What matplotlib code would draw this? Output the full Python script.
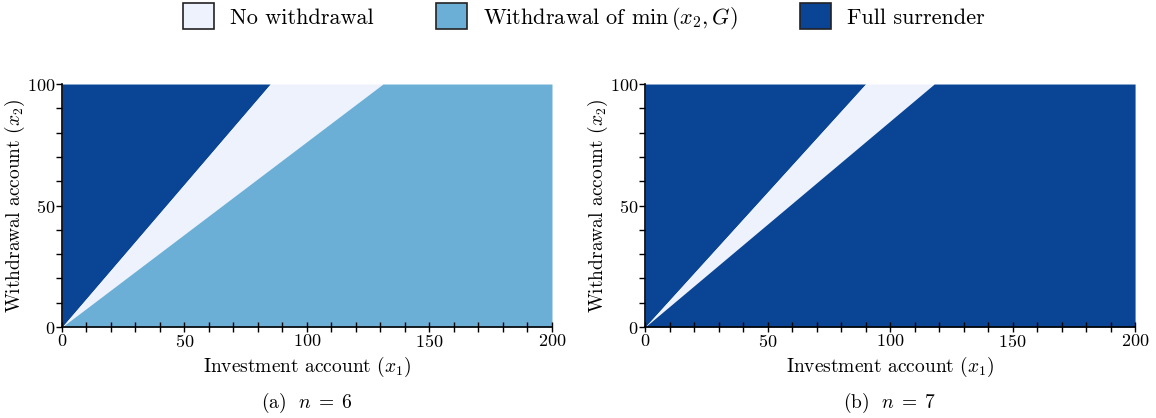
import matplotlib
matplotlib.use('Agg')
import matplotlib.pyplot as plt
import matplotlib.patches as mpatches
from matplotlib.ticker import MultipleLocator
from matplotlib import rcParams

rcParams['font.family'] = 'serif'
rcParams['font.serif'] = ['cmr10']
rcParams['mathtext.fontset'] = 'cm'
rcParams['axes.formatter.use_mathtext'] = True

# boundaries of the regions, given as x1 where each boundary reaches x2 = 100
x2_edge = [0, 100]
upper_a = [0, 85]    # full surrender / no withdrawal (n = 6)
lower_a = [0, 131]   # no withdrawal / withdrawal (n = 6)
upper_b = [0, 90]    # n = 7
lower_b = [0, 118]
x1_max = 200

c_none = '#eef2fd'
c_with = '#6baed6'
c_full = '#094594'

panels = [
	(upper_a, lower_a, c_with, r'(a)  $n\;=\;6$'),
	(upper_b, lower_b, c_full, r'(b)  $n\;=\;7$'),
]

fig = plt.figure(figsize=(11.56, 4.18), dpi=100)
lefts = [0.0536, 0.558]
for (up, lo, below, cap), left in zip(panels, lefts):
	ax = fig.add_axes([left, 0.2177, 0.4239, 0.5813])
	ax.fill_betweenx(x2_edge, 0, up, color=c_full, lw=0)
	ax.fill_betweenx(x2_edge, up, lo, color=c_none, lw=0)
	ax.fill_betweenx(x2_edge, lo, x1_max, color=below, lw=0)
	ax.set_xlim(0, x1_max)
	ax.set_ylim(0, 100)
	for s in ['top', 'right']:
		ax.spines[s].set_visible(False)
	ax.spines['left'].set_linewidth(1.2)
	ax.spines['bottom'].set_linewidth(1.2)
	ax.xaxis.set_major_locator(MultipleLocator(50))
	ax.xaxis.set_minor_locator(MultipleLocator(10))
	ax.yaxis.set_major_locator(MultipleLocator(50))
	ax.yaxis.set_minor_locator(MultipleLocator(10))
	ax.tick_params(axis='x', which='both', direction='inout', length=7, width=1, labelsize=13, pad=1)
	ax.tick_params(axis='y', which='both', direction='out', length=4, width=1, labelsize=13, pad=1)
	ax.set_xlabel(r'Investment account $(x_1)$', fontsize=14, labelpad=3)
	ax.set_ylabel(r'Withdrawal account $(x_2)$', fontsize=14, labelpad=0)
	ax.text(0.5, -0.313, cap, transform=ax.transAxes, ha='center', va='center', fontsize=14)

handles = [
	mpatches.Patch(facecolor=c_none, edgecolor='#222222', lw=1.2, label='No withdrawal'),
	mpatches.Patch(facecolor=c_with, edgecolor='#222222', lw=1.2, label=r'Withdrawal of $\min\,(x_2, G)$'),
	mpatches.Patch(facecolor=c_full, edgecolor='#222222', lw=1.2, label='Full surrender'),
]
fig.legend(handles=handles, loc='center', bbox_to_anchor=(0.505, 0.958), ncol=3,
	frameon=False, fontsize=16, handlelength=1.4, handleheight=1.4, columnspacing=2.8,
	handletextpad=0.72, borderpad=0, borderaxespad=0)

plt.savefig('out.png', dpi=100)
plt.close()
